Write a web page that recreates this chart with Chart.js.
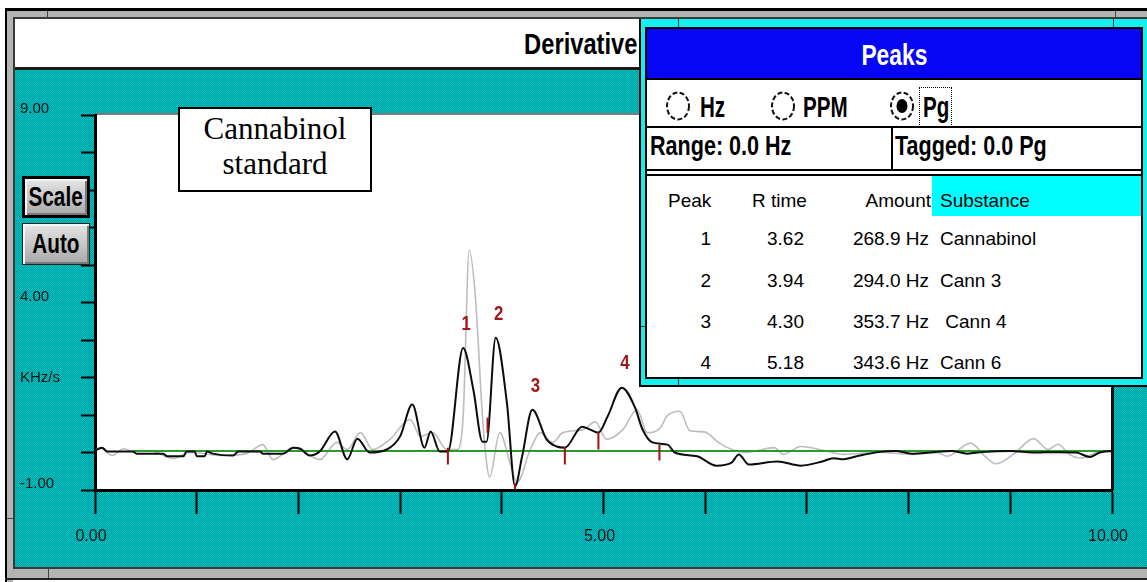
<!DOCTYPE html>
<html>
<head>
<meta charset="utf-8">
<title>Derivative - Cannabinol standard</title>
<script src="https://cdn.jsdelivr.net/npm/chart.js@4.4.1/dist/chart.umd.min.js"></script>
<style>
  html, body { margin:0; padding:0; background:#fff; }
  #wrap { position:relative; width:1147px; height:582px; overflow:hidden; background:#fff; }
  .abs { position:absolute; box-sizing:border-box; }
  .t { position:absolute; white-space:pre; line-height:1; color:#000; }
  .sans { font-family:'Liberation Sans',Arial,sans-serif; }
  .serif { font-family:'Liberation Serif','Times New Roman',serif; }
  .cond { display:inline-block; transform-origin:left center; }
  #teal { left:15px; top:70px; width:1132px; height:497px;
          background-color:#00b0b0;
          background-image:repeating-conic-gradient(#00c8c8 0% 25%, #009a9c 0% 50%);
          background-size:2px 2px; }
  #chart { position:absolute; left:0; top:0; }
  .btn { position:absolute; box-sizing:border-box; left:22px; width:68px; height:42px;
         display:flex; align-items:center; justify-content:center;
         background:linear-gradient(#e6e6e6,#a8a8a8); font-weight:bold; font-size:28px; line-height:1; color:#000; }
  .btn span { display:inline-block; transform:scaleX(0.74); transform-origin:center center; }
  .list { font-size:19px; }
</style>
</head>
<body>
<div id="wrap">
  <!-- window frame -->
  <div class="abs" style="left:5px;top:8px;width:1142px;height:3px;background:#000"></div>
  <div class="abs" style="left:5px;top:8px;width:2px;height:574px;background:#000"></div>
  <div class="abs" style="left:7px;top:11px;width:1140px;height:6px;background:#b4b4b4"></div>
  <div class="abs" style="left:7px;top:17px;width:1140px;height:2px;background:#3a3a3a"></div>
  <div class="abs" style="left:7px;top:11px;width:6px;height:571px;background:#b4b4b4"></div>
  <div class="abs" style="left:13px;top:17px;width:2px;height:552px;background:#3a3a3a"></div>
  <div class="abs" style="left:13px;top:567px;width:1134px;height:2px;background:#3a3a3a"></div>
  <div class="abs" style="left:7px;top:569px;width:1140px;height:9px;background:#b4b4b4"></div>
  <div class="abs" style="left:5px;top:578px;width:1142px;height:2px;background:#222"></div>
  <div class="abs" style="left:47px;top:11px;width:1px;height:6px;background:#444"></div>
  <div class="abs" style="left:1115px;top:11px;width:1px;height:6px;background:#444"></div>
  <div class="abs" style="left:7px;top:518px;width:6px;height:1px;background:#444"></div>
  <div class="abs" style="left:48px;top:569px;width:1px;height:9px;background:#444"></div>

  <!-- title bar -->
  <div class="abs" style="left:15px;top:19px;width:1132px;height:48px;background:#fff"></div>
  <div class="abs" style="left:15px;top:67px;width:1132px;height:3px;background:#1a1a1a"></div>
  <div class="t sans" style="right:510px;top:29px;font-size:30px;font-weight:bold"><span class="cond" style="transform:scaleX(0.79);transform-origin:right center">Derivative</span></div>

  <!-- dithered panel background -->
  <div id="teal" class="abs"></div>

  <canvas id="chart" width="1147" height="582"></canvas>

  <!-- scale buttons -->
  <div class="btn sans" style="top:176px;border:3px solid #000;box-shadow:inset 2px 2px 0 #f4f4f4, inset -2px -2px 0 #7a7a7a"><span>Scale</span></div>
  <div class="btn sans" style="top:223px;border:1px solid #222;box-shadow:inset 2px 2px 0 #f4f4f4, inset -2px -2px 0 #7a7a7a"><span>Auto</span></div>

  <!-- sample note -->
  <div class="abs" style="left:178px;top:107px;width:194px;height:85px;background:#fff;border:2px solid #000"></div>
  <div class="t serif" style="left:178px;width:194px;text-align:center;top:113px;font-size:31px">Cannabinol</div>
  <div class="t serif" style="left:178px;width:194px;text-align:center;top:148px;font-size:31px">standard</div>

  <!-- peaks window -->
  <div class="abs" style="left:639px;top:19px;width:508px;height:368px;background:#000"></div>
  <div class="abs" style="left:641px;top:19px;width:506px;height:366px;background:#14f0f0"></div>
  <div class="abs" style="left:645px;top:27px;width:498px;height:352px;background:#000"></div>
  <div class="abs" style="left:647px;top:29px;width:494px;height:348px;background:#fff"></div>
  <div class="abs" style="left:647px;top:29px;width:494px;height:49px;background:#0606f4"></div>
  <div class="abs" style="left:647px;top:78px;width:494px;height:2px;background:#000"></div>
  <div class="abs" style="left:647px;top:126px;width:494px;height:2px;background:#000"></div>
  <div class="abs" style="left:647px;top:169px;width:494px;height:2px;background:#000"></div>
  <div class="abs" style="left:891px;top:126px;width:2px;height:45px;background:#000"></div>
  <div class="abs" style="left:647px;top:174px;width:494px;height:2px;background:#000"></div>
  <div class="abs" style="left:932px;top:176px;width:209px;height:40px;background:#00ffff"></div>
  <div class="abs" style="left:678px;top:19px;width:1px;height:8px;background:#333"></div>
  <div class="abs" style="left:1113px;top:19px;width:1px;height:8px;background:#333"></div>
  <div class="abs" style="left:641px;top:326px;width:4px;height:1px;background:#333"></div>
  <div class="abs" style="left:678px;top:379px;width:1px;height:6px;background:#333"></div>

  <div class="t sans" style="left:647px;width:494px;text-align:center;top:40px;font-size:30px;font-weight:bold;color:#fff"><span class="cond" style="transform:scaleX(0.76);transform-origin:center center;color:#fff">Peaks</span></div>

  <svg class="abs" style="left:660px;top:88px" width="262" height="36">
    <g fill="none" stroke="#111" stroke-width="2" stroke-dasharray="5 2.4">
      <ellipse cx="18" cy="18" rx="11" ry="13.5"/>
      <ellipse cx="123" cy="18" rx="11" ry="13.5"/>
      <ellipse cx="242" cy="18" rx="11" ry="13.5"/>
    </g>
    <ellipse cx="242" cy="18" rx="5.5" ry="7" fill="#000"/>
  </svg>
  <div class="t sans" style="left:700px;top:93px;font-size:29px;font-weight:bold"><span class="cond" style="transform:scaleX(0.71)">Hz</span></div>
  <div class="t sans" style="left:803px;top:93px;font-size:29px;font-weight:bold"><span class="cond" style="transform:scaleX(0.71)">PPM</span></div>
  <div class="abs" style="left:919px;top:87px;width:33px;height:40px;border:1px dotted #000"></div>
  <div class="t sans" style="left:923px;top:93px;font-size:29px;font-weight:bold"><span class="cond" style="transform:scaleX(0.71)">Pg</span></div>

  <div class="t sans" style="left:650px;top:132px;font-size:28px;font-weight:bold"><span class="cond" style="transform:scaleX(0.77)">Range: 0.0 Hz</span></div>
  <div class="t sans" style="left:895px;top:132px;font-size:28px;font-weight:bold"><span class="cond" style="transform:scaleX(0.77)">Tagged: 0.0 Pg</span></div>

  <div class="t sans list" style="left:668px;top:191px">Peak</div>
  <div class="t sans list" style="left:752px;top:191px">R time</div>
  <div class="t sans list" style="right:216px;top:191px">Amount</div>
  <div class="t sans list" style="left:940px;top:191px">Substance</div>
  <div id="rows"></div>
</div>

<script>
// Sample derivative trace (black): retention time (min) and signal (KHz/s)
const blackTime = [0.00,0.07,0.12,0.37,0.41,0.67,0.71,0.87,0.90,0.98,
  1.00,1.08,1.10,1.16,1.36,1.41,1.62,1.65,1.85,1.95,
  2.02,2.11,2.21,2.36,2.48,2.58,2.70,2.87,3.00,3.12,
  3.24,3.30,3.39,3.47,3.62,3.72,3.81,3.85,3.94,4.05,
  4.13,4.20,4.30,4.44,4.54,4.62,4.79,4.87,4.95,5.04,
  5.18,5.31,5.38,5.48,5.63,5.70,5.92,6.11,6.26,6.33,
  6.43,6.71,6.94,7.15,7.26,7.36,7.49,7.70,7.87,8.03,
  8.21,8.42,8.58,8.72,9.00,9.23,9.47,9.65,9.78,9.88,10.00];
const blackSignal = [0.05,0.13,0.03,0.03,-0.03,-0.03,-0.10,-0.10,0.03,0.03,
  -0.10,-0.10,0.03,-0.03,-0.08,0.03,0.03,-0.03,-0.03,0.13,
  0.10,-0.08,0.03,0.56,-0.18,0.37,0.00,0.08,0.43,1.28,
  0.13,0.56,0.03,0.03,2.79,1.68,0.29,0.29,3.06,1.33,
  -0.90,-0.10,1.14,0.35,0.16,0.13,0.69,0.61,0.53,0.96,
  1.73,1.20,0.64,0.27,0.21,0.00,-0.10,-0.35,-0.27,-0.05,
  -0.32,-0.24,-0.35,-0.24,-0.15,-0.18,-0.10,0.01,0.04,-0.03,
  0.00,0.04,-0.03,0.01,0.04,0.00,0.01,0.00,-0.12,0.00,0.04];

// Overlaid reference trace (light grey)
const grayTime = [0.00,0.05,0.17,0.28,0.37,0.54,0.77,0.93,1.26,1.49,
  1.65,1.75,1.95,2.02,2.21,2.38,2.48,2.61,2.73,2.90,
  3.10,3.20,3.32,3.46,3.56,3.62,3.68,3.74,3.81,3.85,
  3.88,3.98,4.08,4.15,4.28,4.38,4.50,4.60,4.80,4.92,
  5.03,5.19,5.33,5.43,5.56,5.62,5.75,5.85,5.99,6.13,
  6.22,6.40,6.68,6.77,6.94,7.19,7.36,7.70,8.03,8.28,
  8.38,8.61,8.75,8.86,9.03,9.23,9.37,9.47,9.58,9.71,9.84,10.00];
const graySignal = [0.05,0.13,-0.08,0.10,0.03,0.05,-0.16,0.00,-0.08,-0.03,
  0.21,-0.19,0.13,0.08,-0.19,0.27,0.08,0.53,0.08,0.35,
  0.88,0.43,0.53,0.08,0.08,0.96,5.40,4.15,0.96,-0.27,
  -0.66,0.53,-0.27,-0.80,0.08,0.53,0.27,0.53,0.61,0.82,
  0.35,0.61,1.14,0.53,0.66,0.96,1.10,0.58,0.55,0.27,
  0.13,0.00,0.13,-0.05,0.16,0.04,-0.05,0.01,-0.05,0.00,
  -0.10,0.25,-0.10,-0.30,-0.05,0.37,0.08,0.22,-0.05,-0.15,0.00,0.04];

// Integration baseline (green)
const baselineRange = [0.37, 10.00];
const baselineLevel = 0.04;

// Peak start / end markers (red)
const markTime = [3.47, 3.86, 4.13, 4.62, 4.95, 5.55];
const markLow  = [-0.32, 0.53, -0.98, -0.32, 0.08, -0.21];
const markHigh = [0.13, 0.93, -0.82, 0.16, 0.56, 0.21];

// Detected peaks
const peakNumbers = ['1', '2', '3', '4'];
const peakTimes   = [3.62, 3.94, 4.30, 5.18];
const peakHeights = [2.79, 3.06, 1.14, 1.73];
const peakAmounts = ['268.9 Hz', '294.0 Hz', '353.7 Hz', '343.6 Hz'];
const peakSubstances = ['Cannabinol', 'Cann 3', ' Cann 4', 'Cann 6'];

// Axis labels
const xTickValues = [0, 5, 10];
const xTickLabels = ['0.00', '5.00', '10.00'];
const yTickValues = [9, 4, 2, -1];
const yTickLabels = ['9.00', '4.00', 'KHz/s', '-1.00'];

// peak table rows
const rowTops = [229, 271, 312, 353];
const rows = document.getElementById('rows');
peakNumbers.forEach((n, i) => {
  const cells = [
    ['right:436px', n],
    ['right:343px', peakTimes[i].toFixed(2)],
    ['right:218px', peakAmounts[i]],
    ['left:940px', peakSubstances[i]]
  ];
  cells.forEach(([pos, text]) => {
    const d = document.createElement('div');
    d.className = 't sans list';
    d.setAttribute('style', pos + ';top:' + rowTops[i] + 'px');
    d.textContent = text;
    rows.appendChild(d);
  });
});

const SANS = "'Liberation Sans', Arial, sans-serif";

const plotFrame = {
  id: 'plotFrame',
  beforeDraw(chart) {
    const { ctx, chartArea: a } = chart;
    ctx.save();
    ctx.fillStyle = '#fff';
    ctx.fillRect(a.left, a.top, a.right - a.left, a.bottom - a.top);
    ctx.fillStyle = '#7a7a7a';
    ctx.fillRect(a.left, a.top - 2, a.right - a.left, 2);
    ctx.restore();
  },
  afterDatasetsDraw(chart) {
    const { ctx, chartArea: a, scales: { x, y } } = chart;
    ctx.save();
    ctx.fillStyle = '#111';
    ctx.fillRect(a.right - 1, a.top, 3, a.bottom - a.top);
    ctx.fillStyle = '#a01818';
    ctx.font = 'bold 21px ' + SANS;
    ctx.textAlign = 'center';
    ctx.textBaseline = 'middle';
    peakTimes.forEach((t, i) => {
      const px = x.getPixelForValue(t) + 3;
      const py = y.getPixelForValue(peakHeights[i]) - 24;
      ctx.save();
      ctx.translate(px, py);
      ctx.scale(0.8, 1);
      ctx.fillText(peakNumbers[i], 0, 0);
      ctx.restore();
    });
    ctx.restore();
  }
};

const markData = [];
markTime.forEach((t, i) => {
  markData.push({ x: t, y: markLow[i] }, { x: t, y: markHigh[i] }, { x: t, y: null });
});

new Chart(document.getElementById('chart'), {
  type: 'line',
  data: {
    datasets: [
      { label: 'Reference', data: grayTime.map((t, i) => ({ x: t, y: graySignal[i] })),
        borderColor: '#bdbdbd', borderWidth: 1.6, cubicInterpolationMode: 'monotone', order: 4 },
      { label: 'Baseline', data: [{ x: baselineRange[0], y: baselineLevel }, { x: baselineRange[1], y: baselineLevel }],
        borderColor: '#2b9a2b', borderWidth: 2, order: 3 },
      { label: 'Sample', data: blackTime.map((t, i) => ({ x: t, y: blackSignal[i] })),
        borderColor: '#0c0c0c', borderWidth: 2, cubicInterpolationMode: 'monotone', order: 2 },
      { label: 'Peak limits', data: markData, borderColor: '#a51010', borderWidth: 2, spanGaps: false, order: 1 }
    ]
  },
  options: {
    responsive: false,
    devicePixelRatio: 1,
    animation: false,
    events: [],
    layout: { padding: { left: 20, right: 35, top: 115, bottom: 0 } },
    elements: { point: { radius: 0 }, line: { tension: 0, borderCapStyle: 'butt' } },
    plugins: { legend: { display: false }, tooltip: { enabled: false }, title: { display: false } },
    scales: {
      x: {
        type: 'linear', min: 0, max: 10, offset: false,
        afterFit: s => { s.height = 92; },
        border: { display: true, color: '#000', width: 3 },
        grid: { drawOnChartArea: false, drawTicks: true, tickLength: 24, tickWidth: 2, tickColor: '#000', color: '#000' },
        ticks: {
          stepSize: 1, autoSkip: false, maxRotation: 0, minRotation: 0, padding: 13, labelOffset: -4,
          color: '#111', font: { family: SANS, size: 16 },
          callback: v => { const k = xTickValues.indexOf(v); return k >= 0 ? xTickLabels[k] : ''; }
        }
      },
      y: {
        type: 'linear', min: -1, max: 9,
        afterFit: s => { s.width = 75; },
        border: { display: true, color: '#000', width: 3 },
        grid: { drawOnChartArea: false, drawTicks: true, tickLength: 14, tickWidth: 2, tickColor: '#000', color: '#000' },
        ticks: {
          stepSize: 1, autoSkip: false, crossAlign: 'far', padding: 4, labelOffset: -6,
          color: '#111', font: { family: SANS, size: 15, lineHeight: 0.8 },
          callback: v => {
            const k = yTickValues.indexOf(v);
            if (k < 0) return '';
            return v === 2 ? ['', yTickLabels[k]] : yTickLabels[k];
          }
        }
      }
    }
  },
  plugins: [plotFrame]
});
</script>
</body>
</html>
